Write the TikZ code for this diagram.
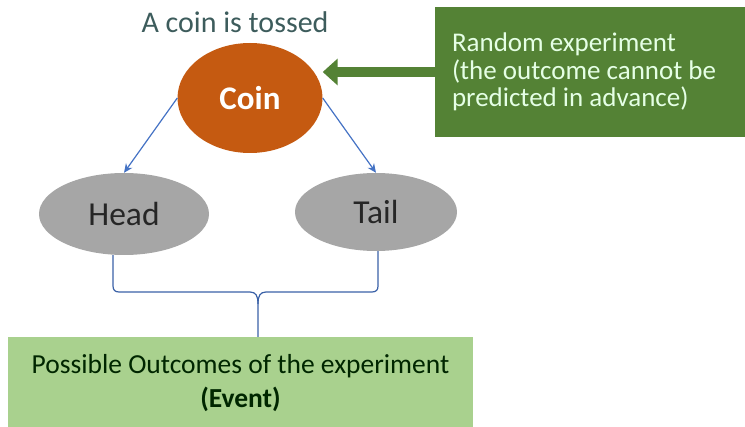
\documentclass[tikz,border=0pt]{standalone}
\usepackage{fontspec}
\setmainfont{Carlito}
\usepackage{tikz}
\usetikzlibrary{arrows.meta,shapes.geometric}
\definecolor{cointone}{HTML}{C55A11}
\definecolor{randgreen}{HTML}{548235}
\definecolor{eventgreen}{HTML}{A9D18E}
\definecolor{sidegray}{HTML}{A6A6A6}
\definecolor{linkblue}{HTML}{4472C4}
\definecolor{titletone}{HTML}{3D5C5C}
\def\fs#1#2{\fontsize{#1}{#2}\selectfont}

\begin{document}
\begin{tikzpicture}[x=1pt,y=-1pt,
  oval/.style={ellipse, inner sep=0pt, text=black!85},
  link/.style={draw=linkblue, line width=1.2pt, -{Stealth[length=9pt,width=8pt]}},
  brace/.style={draw=linkblue!85!black, line width=1.2pt}]
\useasboundingbox (0,0) rectangle (745,427);

% the three ellipses
\node[oval, fill=cointone, text=white, minimum width=145pt, minimum height=110pt, font=\fs{33}{33}\bfseries] (coin) at (250,98) {Coin};
\node[oval, fill=sidegray, minimum width=170pt, minimum height=82pt, font=\fs{33.5}{33.5}] (head) at (124,214) {Head};
\node[oval, fill=sidegray, minimum width=162pt, minimum height=78pt, font=\fs{33.5}{33.5}] (tail) at (376,212) {Tail};
\node[text=titletone, font=\fs{30}{30}] (toss) at (235,22) {A coin is tossed};

% boxes
\node[fill=randgreen, text=white!90!green, minimum width=310pt, minimum height=130pt, text width=276pt, align=flush left, inner xsep=17pt, font=\fs{27}{27.5}] (rand) at (590,72) {Random experiment\\(the outcome cannot be\\predicted in advance)};
\node[fill=eventgreen, text=black!85!green, minimum width=465pt, minimum height=93pt, align=center, font=\fs{27.5}{34}] (event) at (240.5,383.5) {Possible Outcomes of the experiment\\\textbf{(Event)}};

% arrows
\draw[randgreen, line width=10pt, -{Triangle[width=26pt,length=15pt]}] (rand.west) -- (rand.west -| coin.east);
\draw[link] (coin.west) -- (head.north);
\draw[link] (coin.east) -- (tail.north);

% brace under the outcomes
\coordinate (hb) at ([xshift=-11pt]head.south);
\coordinate (tb) at ([xshift=2pt]tail.south);
\coordinate (eb) at ([xshift=17.5pt]event.north);
\draw[brace] (hb) -- (113,286) .. controls (113,290) and (115,292) .. (119,292) -- (250,292) .. controls (256,292) and (258,296) .. (258,304) -- (eb);
\draw[brace] (tb) -- (378,286) .. controls (378,290) and (376,292) .. (372,292) -- (266,292) .. controls (260,292) and (258,296) .. (258,304);
\end{tikzpicture}
\end{document}
